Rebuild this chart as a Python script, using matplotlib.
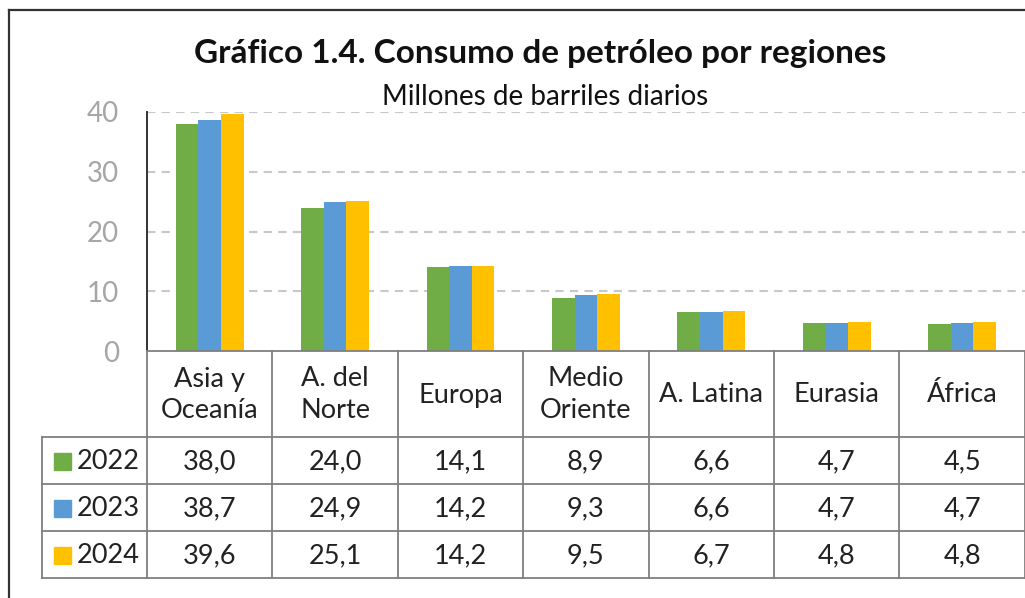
import numpy as np
import matplotlib
matplotlib.use("Agg")
import matplotlib.pyplot as plt
from matplotlib.patches import Rectangle

# data
regions = ["Asia y\nOceanía", "A. del\nNorte", "Europa", "Medio\nOriente",
           "A. Latina", "Eurasia", "África"]
years = ["2022", "2023", "2024"]
v2022 = [38.0, 24.0, 14.1, 8.9, 6.6, 4.7, 4.5]
v2023 = [38.7, 24.9, 14.2, 9.3, 6.6, 4.7, 4.7]
v2024 = [39.6, 25.1, 14.2, 9.5, 6.7, 4.8, 4.8]
yticks = [0, 10, 20, 30, 40]

colors = ["#70AD47", "#5B9BD5", "#FFC000"]
series = [v2022, v2023, v2024]

W, H = 1025, 598
fig = plt.figure(figsize=(W / 100, H / 100), dpi=100)
plt.rcParams['font.family'] = ['Lato', 'DejaVu Sans']


def box(x0, y0, x1, y1):
    # pixel box (top-left origin) -> figure fraction rect
    return [x0 / W, 1 - y1 / H, (x1 - x0) / W, (y1 - y0) / H]


# outer frame (top and left edges only visible)
fig.add_artist(plt.Line2D([9 / W, 1], [1 - 10 / H, 1 - 10 / H], color="#333333", lw=1.6))
fig.add_artist(plt.Line2D([9 / W, 9 / W], [0, 1 - 10 / H], color="#333333", lw=1.6))

fig.text(540 / W, 1 - 53 / H, "Gráfico 1.4. Consumo de petróleo por regiones",
         ha="center", va="center", fontsize=24, fontweight="bold", color="#111111")
fig.text(545 / W, 1 - 97 / H, "Millones de barriles diarios",
         ha="center", va="center", fontsize=20, color="#111111")

# bar chart
colw = 125.4
ax = fig.add_axes(box(147, 112, 147 + 7 * colw, 351))
x = np.arange(len(regions))
bw = 0.18
for i, (vals, c) in enumerate(zip(series, colors)):
    ax.bar(x + (i - 1) * bw, vals, bw, color=c, zorder=3)
ax.set_xlim(-0.5, len(regions) - 0.5)
ax.set_ylim(0, 40)
ax.set_yticks(yticks)
ax.set_yticklabels([str(t) for t in yticks])
ax.tick_params(axis="y", length=0, pad=20, labelsize=20, labelcolor="#A6A6A6")
ax.set_xticks([])
for t in yticks[1:]:
    ax.axhline(t, color="#C8C8C8", lw=1.5, ls=(0, (4, 3)), zorder=1)
for s in ["top", "right", "bottom"]:
    ax.spines[s].set_visible(False)
ax.spines["left"].set_color("#333333")
ax.spines["left"].set_linewidth(1.4)

# data table below the plot
tab = fig.add_axes(box(42, 351, 147 + 7 * colw, 578))
tab.set_xlim(-0.5 - (147 - 42) / colw, len(regions) - 0.5)
hdr = 86
rowh = 47
tab.set_ylim(hdr + 3 * rowh, 0)
tab.axis("off")
lc = "#7F7F7F"
xl = -0.5 - (147 - 42) / colw
xr = len(regions) - 0.5
# horizontal lines
tab.plot([-0.5, xr], [0, 0], color=lc, lw=1.3, clip_on=False)
for r in range(4):
    y = hdr + r * rowh
    tab.plot([xl, xr], [y, y], color=lc, lw=1.3, clip_on=False)
# vertical lines
for k in range(len(regions) + 1):
    tab.plot([k - 0.5, k - 0.5], [0, hdr + 3 * rowh], color=lc, lw=1.3, clip_on=False)
tab.plot([xl, xl], [hdr, hdr + 3 * rowh], color=lc, lw=1.3, clip_on=False)

fs = 19.5
for k, name in enumerate(regions):
    tab.text(k, hdr / 2 + 1, name, ha="center", va="center", fontsize=fs,
             color="#222222", linespacing=1.35)
for r, (yr, vals, c) in enumerate(zip(years, series, colors)):
    yc = hdr + r * rowh + rowh / 2
    tab.add_patch(Rectangle((xl + 12 / colw, yc - 8), 17 / colw, 17, color=c, clip_on=False))
    tab.text(xl + 35 / colw, yc + 1, yr, ha="left", va="center", fontsize=fs, color="#222222")
    for k, v in enumerate(vals):
        tab.text(k, yc + 1, f"{v:.1f}".replace(".", ","), ha="center", va="center",
                 fontsize=fs, color="#222222")

fig.savefig("out.png", dpi=100)
